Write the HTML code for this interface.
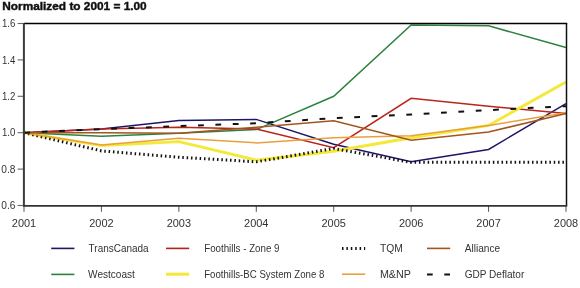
<!DOCTYPE html><html><head><meta charset="utf-8"><style>html,body{margin:0;padding:0;background:#fff;width:580px;height:288px;overflow:hidden}svg{display:block;-webkit-font-smoothing:antialiased;will-change:transform}text{font-family:"Liberation Sans",sans-serif}</style></head><body>
<svg width="580" height="288" viewBox="0 0 580 288">
<rect width="580" height="288" fill="#fff"/>
<text x="2.3" y="9.7" font-size="10.5" font-weight="bold" fill="#111" stroke="#111" stroke-width="0.4" textLength="144.4" lengthAdjust="spacingAndGlyphs">Normalized to 2001 = 1.00</text>
<text x="15.4" y="27.20" font-size="11" fill="#333" text-anchor="end" textLength="13.4" lengthAdjust="spacingAndGlyphs">1.6</text>
<line x1="17.6" y1="23.50" x2="24" y2="23.50" stroke="#666" stroke-width="1.1"/>
<text x="15.4" y="63.60" font-size="11" fill="#333" text-anchor="end" textLength="13.4" lengthAdjust="spacingAndGlyphs">1.4</text>
<line x1="17.6" y1="59.90" x2="24" y2="59.90" stroke="#666" stroke-width="1.1"/>
<text x="15.4" y="100.00" font-size="11" fill="#333" text-anchor="end" textLength="13.4" lengthAdjust="spacingAndGlyphs">1.2</text>
<line x1="17.6" y1="96.30" x2="24" y2="96.30" stroke="#666" stroke-width="1.1"/>
<text x="15.4" y="136.40" font-size="11" fill="#333" text-anchor="end" textLength="13.4" lengthAdjust="spacingAndGlyphs">1.0</text>
<line x1="17.6" y1="132.70" x2="24" y2="132.70" stroke="#666" stroke-width="1.1"/>
<text x="15.4" y="172.80" font-size="11" fill="#333" text-anchor="end" textLength="14.1" lengthAdjust="spacingAndGlyphs">0.8</text>
<line x1="17.6" y1="169.10" x2="24" y2="169.10" stroke="#666" stroke-width="1.1"/>
<text x="15.4" y="209.20" font-size="11" fill="#333" text-anchor="end" textLength="14.1" lengthAdjust="spacingAndGlyphs">0.6</text>
<line x1="17.6" y1="205.50" x2="24" y2="205.50" stroke="#666" stroke-width="1.1"/>
<text x="24.00" y="227.0" font-size="11" fill="#333" text-anchor="middle" textLength="24.4" lengthAdjust="spacingAndGlyphs">2001</text>
<line x1="24.00" y1="205.5" x2="24.00" y2="211.8" stroke="#555" stroke-width="1"/>
<text x="101.43" y="227.0" font-size="11" fill="#333" text-anchor="middle" textLength="24.4" lengthAdjust="spacingAndGlyphs">2002</text>
<line x1="101.43" y1="205.5" x2="101.43" y2="211.8" stroke="#555" stroke-width="1"/>
<text x="178.86" y="227.0" font-size="11" fill="#333" text-anchor="middle" textLength="24.4" lengthAdjust="spacingAndGlyphs">2003</text>
<line x1="178.86" y1="205.5" x2="178.86" y2="211.8" stroke="#555" stroke-width="1"/>
<text x="256.29" y="227.0" font-size="11" fill="#333" text-anchor="middle" textLength="24.4" lengthAdjust="spacingAndGlyphs">2004</text>
<line x1="256.29" y1="205.5" x2="256.29" y2="211.8" stroke="#555" stroke-width="1"/>
<text x="333.71" y="227.0" font-size="11" fill="#333" text-anchor="middle" textLength="24.4" lengthAdjust="spacingAndGlyphs">2005</text>
<line x1="333.71" y1="205.5" x2="333.71" y2="211.8" stroke="#555" stroke-width="1"/>
<text x="411.14" y="227.0" font-size="11" fill="#333" text-anchor="middle" textLength="24.4" lengthAdjust="spacingAndGlyphs">2006</text>
<line x1="411.14" y1="205.5" x2="411.14" y2="211.8" stroke="#555" stroke-width="1"/>
<text x="488.57" y="227.0" font-size="11" fill="#333" text-anchor="middle" textLength="24.4" lengthAdjust="spacingAndGlyphs">2007</text>
<line x1="488.57" y1="205.5" x2="488.57" y2="211.8" stroke="#555" stroke-width="1"/>
<text x="566.00" y="227.0" font-size="11" fill="#333" text-anchor="middle" textLength="24.4" lengthAdjust="spacingAndGlyphs">2008</text>
<line x1="566.00" y1="205.5" x2="566.00" y2="211.8" stroke="#555" stroke-width="1"/>
<polyline points="24.00,132.70 101.43,129.06 178.86,120.51 256.29,119.41 333.71,144.17 411.14,161.82 488.57,149.44 566.00,103.58" fill="none" stroke="#1f1566" stroke-width="1.5" stroke-linejoin="miter"/>
<polyline points="24.00,132.70 101.43,136.34 178.86,133.25 256.29,129.61 333.71,96.30 411.14,24.96 488.57,25.87 566.00,47.52" fill="none" stroke="#2d8240" stroke-width="1.5" stroke-linejoin="miter"/>
<polyline points="24.00,132.70 101.43,129.06 178.86,127.24 256.29,129.06 333.71,147.62 411.14,98.30 488.57,106.13 566.00,113.59" fill="none" stroke="#bb2418" stroke-width="1.5" stroke-linejoin="miter"/>
<polyline points="24.00,132.70 101.43,145.62 178.86,141.62 256.29,160.18 333.71,151.26 411.14,137.80 488.57,125.42 566.00,81.92" fill="none" stroke="#f4e838" stroke-width="2.9" stroke-linejoin="miter"/>
<polyline points="24.00,132.70 101.43,150.90 178.86,157.27 256.29,161.82 333.71,148.53 411.14,162.37 488.57,162.37 566.00,162.37" fill="none" stroke="#111111" stroke-width="3.0" stroke-linejoin="miter" stroke-dasharray="1.5 2.848" stroke-dashoffset="0.21"/>
<polyline points="24.00,132.70 101.43,145.08 178.86,138.34 256.29,142.89 333.71,137.80 411.14,135.79 488.57,125.42 566.00,112.86" fill="none" stroke="#e9a03c" stroke-width="1.5" stroke-linejoin="miter"/>
<polyline points="24.00,132.70 101.43,132.70 178.86,133.25 256.29,127.24 333.71,120.69 411.14,140.34 488.57,131.97 566.00,113.59" fill="none" stroke="#a0561f" stroke-width="1.5" stroke-linejoin="miter"/>
<polyline points="24.00,132.70 101.43,129.06 178.86,126.15 256.29,123.24 333.71,118.14 411.14,114.50 488.57,110.13 566.00,106.13" fill="none" stroke="#111111" stroke-width="2.0" stroke-linejoin="miter" stroke-dasharray="5.8 11.58" stroke-dashoffset="-0.4"/>
<line x1="24" y1="23.45" x2="567.2" y2="23.45" stroke="#000" stroke-width="1.4"/>
<line x1="566.5" y1="23.4" x2="566.5" y2="205.8" stroke="#111" stroke-width="1.5"/>
<line x1="23.9" y1="23.3" x2="23.9" y2="206.5" stroke="#3c3c3c" stroke-width="2"/>
<line x1="23.2" y1="205.9" x2="567.2" y2="205.9" stroke="#333" stroke-width="1.8"/>
<line x1="51.2" y1="248.4" x2="74.4" y2="248.4" stroke="#1f1566" stroke-width="1.6"/>
<text x="88.6" y="252.0" font-size="11" fill="#333" textLength="60.0" lengthAdjust="spacingAndGlyphs">TransCanada</text>
<line x1="166.0" y1="248.4" x2="189.2" y2="248.4" stroke="#b52216" stroke-width="1.6"/>
<text x="204.2" y="252.0" font-size="11" fill="#333" textLength="75.3" lengthAdjust="spacingAndGlyphs">Foothills - Zone 9</text>
<line x1="342.0" y1="248.4" x2="365.2" y2="248.4" stroke="#111" stroke-width="3.0" stroke-dasharray="1.5 2.9"/>
<text x="379.9" y="252.0" font-size="11" fill="#333" textLength="22.9" lengthAdjust="spacingAndGlyphs">TQM</text>
<line x1="427.0" y1="248.4" x2="450.2" y2="248.4" stroke="#a0561f" stroke-width="1.6"/>
<text x="464.7" y="252.0" font-size="11" fill="#333" textLength="35.5" lengthAdjust="spacingAndGlyphs">Alliance</text>
<line x1="51.2" y1="274.4" x2="74.4" y2="274.4" stroke="#2d8240" stroke-width="1.6"/>
<text x="88.1" y="277.9" font-size="11" fill="#333" textLength="46.8" lengthAdjust="spacingAndGlyphs">Westcoast</text>
<line x1="166.0" y1="274.2" x2="189.2" y2="274.2" stroke="#f4e838" stroke-width="3.0"/>
<text x="204.2" y="277.9" font-size="11" fill="#333" textLength="120.1" lengthAdjust="spacingAndGlyphs">Foothills-BC System Zone 8</text>
<line x1="342.0" y1="274.2" x2="365.2" y2="274.2" stroke="#e9a03c" stroke-width="1.6"/>
<text x="379.9" y="277.9" font-size="11" fill="#333" textLength="31.0" lengthAdjust="spacingAndGlyphs">M&amp;NP</text>
<line x1="427.0" y1="274.6" x2="450.2" y2="274.6" stroke="#111" stroke-width="2.0" stroke-dasharray="5.7 11.6"/>
<text x="464.7" y="277.9" font-size="11" fill="#333" textLength="59.6" lengthAdjust="spacingAndGlyphs">GDP Deflator</text>
</svg></body></html>
